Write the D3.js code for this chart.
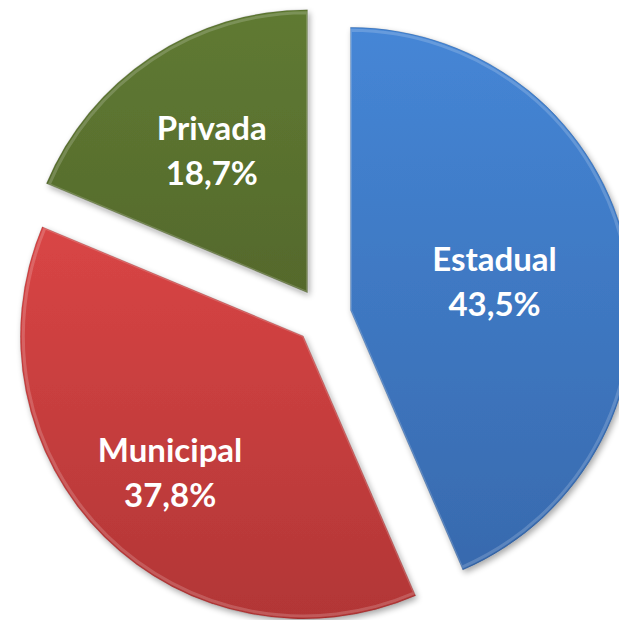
<!DOCTYPE html>
<html><head><meta charset="utf-8">
<script src="https://cdn.jsdelivr.net/npm/d3@7"></script>
<style>html,body{margin:0;padding:0;background:#fff;}svg{display:block;}</style>
</head><body>
<svg id="chart" width="619" height="620"></svg>
<script>
const categories = ["Estadual", "Municipal", "Privada"];
const values = [43.5, 37.8, 18.7];
const valueLabels = ["43,5%", "37,8%", "18,7%"];
const colorsTop = ["#4586d6", "#d94545", "#5f7a32"];
const colorsBottom = ["#386aae", "#b23636", "#55692c"];
const labelPos = [0.52, 0.67, 0.61];

const svg = d3.select("#chart");
const cx = 323, cy = 316, R = 283, explode = 28;
const defs = svg.append("defs");

const f = defs.append("filter").attr("id","shadow").attr("x","-20%").attr("y","-20%").attr("width","140%").attr("height","140%");
f.append("feGaussianBlur").attr("in","SourceAlpha").attr("stdDeviation",3).attr("result","b");
f.append("feOffset").attr("in","b").attr("dx",2).attr("dy",3).attr("result","o");
f.append("feComponentTransfer").attr("in","o").attr("result","s").append("feFuncA").attr("type","linear").attr("slope",0.35);
const m = f.append("feMerge"); m.append("feMergeNode").attr("in","s"); m.append("feMergeNode").attr("in","SourceGraphic");

categories.forEach((c,i)=>{
  const g = defs.append("linearGradient").attr("id","grad"+i).attr("x1",0).attr("y1",0).attr("x2",0).attr("y2",1);
  g.append("stop").attr("offset","0%").attr("stop-color",colorsTop[i]);
  g.append("stop").attr("offset","100%").attr("stop-color",colorsBottom[i]);
});

const pie = d3.pie().sort(null).value(d=>d)(values);
const arc = d3.arc().innerRadius(0).outerRadius(R);
const arcInner = d3.arc().innerRadius(0).outerRadius(R-3);

const root = svg.append("g").attr("transform",`translate(${cx},${cy})`);
const slices = root.selectAll("g.slice").data(pie).join("g").attr("class","slice")
  .attr("transform", d=>{
    const a=(d.startAngle+d.endAngle)/2;
    return `translate(${explode*Math.sin(a)},${-explode*Math.cos(a)})`;
  });

slices.append("path").attr("d",arc).attr("fill",(d,i)=>`url(#grad${i})`).attr("filter","url(#shadow)");
slices.append("path").attr("d",arcInner).attr("fill","none").attr("stroke","rgba(255,255,255,0.18)").attr("stroke-width",3);
slices.append("path").attr("d",arc).attr("fill","none").attr("stroke","rgba(0,0,0,0.12)").attr("stroke-width",1);

const lbl = slices.append("text")
  .attr("font-family","Lato, 'Open Sans', sans-serif").attr("font-weight","bold").attr("font-size",33)
  .attr("fill","#fff").attr("text-anchor","middle")
  .attr("transform",(d,i)=>{
    const a=(d.startAngle+d.endAngle)/2, r=R*labelPos[i];
    return `translate(${r*Math.sin(a)},${-r*Math.cos(a)})`;
  });
lbl.append("tspan").attr("x",0).attr("y",-9).text((d,i)=>categories[i]);
lbl.append("tspan").attr("x",0).attr("y",36).text((d,i)=>valueLabels[i]);
</script>
</body></html>
